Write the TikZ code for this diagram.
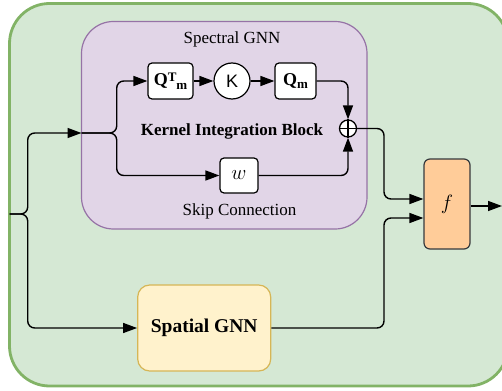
\documentclass[tikz,border=0pt]{standalone}
\usepackage{fontspec}
\setmainfont{Liberation Serif}
\newfontfamily\kfont{Liberation Sans}
\usetikzlibrary{arrows.meta}
\definecolor{gfill}{HTML}{D5E8D4}
\definecolor{gline}{HTML}{82B366}
\definecolor{pfill}{HTML}{E1D5E7}
\definecolor{pline}{HTML}{9673A6}
\definecolor{yfill}{HTML}{FFF2CC}
\definecolor{yline}{HTML}{D6B656}
\definecolor{ofill}{HTML}{FFCC99}
\definecolor{oline}{HTML}{36393D}
\begin{document}
\begin{tikzpicture}[x=1pt,y=-1pt,
  conn/.style={line width=1.4pt, -{Triangle[length=14pt,width=10pt]}, rounded corners=7pt},
  wbox/.style={draw, line width=1.2pt, fill=white, rounded corners=4pt, inner sep=0pt},
  lbl/.style={inner sep=0pt, font=\fontsize{17}{19}\selectfont},
]
\useasboundingbox (0,0) rectangle (502,390);
% containers
\draw[line width=2.8pt, draw=gline, fill=gfill, rounded corners=40pt] (9.5,3.5) rectangle (508,386);
\draw[line width=1.2pt, draw=pline, fill=pfill, rounded corners=32pt] (81.5,21.5) rectangle (367,229);
% labels
\node[lbl] (sg) at (232,39) {Spectral GNN};
\node[lbl, font=\fontsize{17}{19}\selectfont\bfseries] (kib) at (232,131) {Kernel Integration Block};
\node[lbl] (skip) at (239.5,211) {Skip Connection};
% boxes
\node[wbox, minimum width=45pt, minimum height=36pt] (qt) at (170.5,81)
  {\fontsize{18}{20}\selectfont\bfseries Q\raisebox{0.55ex}{\fontsize{13}{14}\selectfont T}\raisebox{-0.45ex}{\fontsize{13}{14}\selectfont m}};
\node[draw, circle, line width=1.2pt, fill=white, minimum size=36pt, inner sep=0pt] (k) at (232,81)
  {\kfont\fontsize{18}{20}\selectfont K};
\node[wbox, minimum width=41pt, minimum height=36pt] (qm) at (295.5,81)
  {\fontsize{18}{20}\selectfont\bfseries Q\raisebox{-0.45ex}{\fontsize{13}{14}\selectfont m}};
\node[wbox, minimum width=38pt, minimum height=35pt] (w) at (239,175.5)
  {\fontsize{20}{22}\selectfont$w$};
\node[draw, circle, line width=1.3pt, fill=white, minimum size=17pt, inner sep=0pt] (op) at (348,128.5) {};
\draw[line width=1.3pt] (op.north) -- (op.south) (op.west) -- (op.east);
\node[draw=oline, fill=ofill, line width=1.2pt, rounded corners=6pt, minimum width=46pt, minimum height=90pt, inner sep=0pt] (f) at (447,204)
  {\fontsize{20}{22}\selectfont$f$};
\node[draw=yline, fill=yfill, line width=1.2pt, rounded corners=12pt, minimum width=133pt, minimum height=86pt, inner sep=0pt,
  font=\fontsize{19.5}{21}\selectfont\bfseries] (sp) at (204.2,328) {Spatial GNN};
% coordinates
\coordinate (in) at (9.5,214);
\coordinate (pin) at (81.5,133);
\coordinate (out) at (502,206);
% connectors
\draw[conn] (in) -- (27.7,214) -- (27.7,133) -- (pin);
\draw[conn] (in) -- (27.7,214) -- (27.7,328) -- (sp.west);
\draw[conn] (pin) -- (116.7,133) -- (116.7,81) -- (qt.west);
\draw[conn] (pin) -- (116.7,133) |- (w.west);
\draw[conn] (qt) -- (k);
\draw[conn] (k) -- (qm);
\draw[conn] (qm.east) -| (op.north);
\draw[conn] (w.east) -| (op.south);
\draw[conn] (op.east) -- (384,128.5) -- (384,199) -- ([yshift=5pt]f.west);
\draw[conn] (sp.east) -| (384,218) -- ([yshift=-14pt]f.west);
\draw[conn] (f.east |- out) -- (out);
\end{tikzpicture}
\end{document}
